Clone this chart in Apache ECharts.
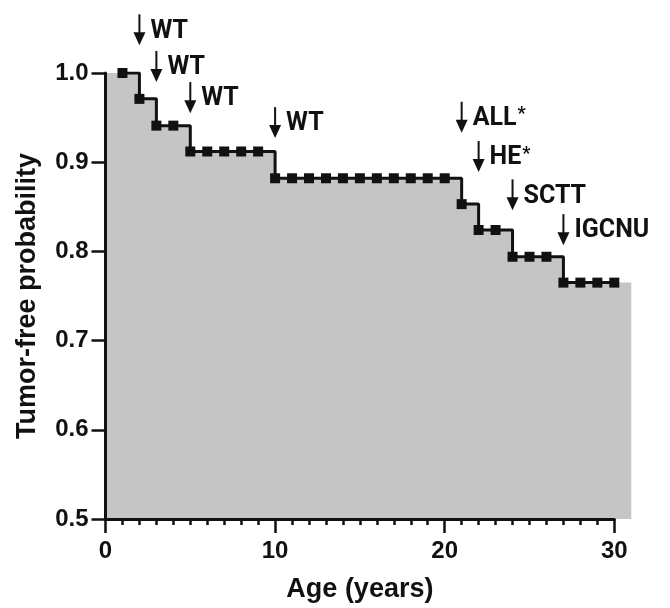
<!DOCTYPE html>
<html lang="en">
<head>
<meta charset="UTF-8">
<title>Tumor-free probability</title>
<script src="https://cdn.jsdelivr.net/npm/echarts@6/dist/echarts.min.js"></script>
<style>
    html, body { margin: 0; padding: 0; background: #fff; }
    #container { width: 670px; height: 608px; }
</style>
</head>
<body>
<div id="container"></div>
<script type="text/javascript">
    // Kaplan-Meier curve, one value per year of age
    const ages = [1, 2, 3, 4, 5, 6, 7, 8, 9, 10,
                  11, 12, 13, 14, 15, 16, 17, 18, 19, 20,
                  21, 22, 23, 24, 25, 26, 27, 28, 29, 30];
    const survival = [1.000, 0.971, 0.941, 0.941, 0.912, 0.912, 0.912, 0.912, 0.912, 0.882,
                      0.882, 0.882, 0.882, 0.882, 0.882, 0.882, 0.882, 0.882, 0.882, 0.882,
                      0.853, 0.824, 0.824, 0.794, 0.794, 0.794, 0.765, 0.765, 0.765, 0.765];
    // grey area runs from the y axis to a bit past the last point
    const fillFrom = 0;
    const fillTo = 31;

    // tumour events: age, label, where the arrow tip sits (probability units)
    const eventAges = [2, 3, 5, 10, 21, 22, 24, 27];
    const eventLabels = ['WT', 'WT', 'WT', 'WT', 'ALL*', 'HE*', 'SCTT', 'IGCNU'];
    const arrowTips = [1.031, 0.990, 0.955, 0.927, 0.933, 0.889, 0.846, 0.807];

    const xTicks = [0, 10, 20, 30];
    const yTicks = [0.5, 0.6, 0.7, 0.8, 0.9, 1.0];

    const axisFont = '"Liberation Sans", Arial, sans-serif';
    const noteFont = 'Roboto, "Noto Sans", sans-serif';

    const curve = ages.map((a, i) => [a, survival[i]]);
    const events = eventAges.map((a, i) => [a, arrowTips[i]]);

    const dom = document.getElementById('container');
    const myChart = echarts.init(dom, null, { renderer: 'canvas' });

    function noteText(label) {
        if (label.endsWith('*')) {
            return '{m|' + label.slice(0, -1) + '}{s|*}';
        }
        return '{m|' + label + '}';
    }

    // step outline of the grey area, built from the same data through the axes
    function renderFill(params, api) {
        const base = yTicks[0];
        const xs = [fillFrom].concat(ages, [fillTo]);
        const ys = [survival[0]].concat(survival, [survival[survival.length - 1]]);
        const pts = [api.coord([fillFrom, base])];
        for (let i = 0; i < xs.length; i++) {
            if (i > 0) pts.push(api.coord([xs[i], ys[i - 1]]));
            pts.push(api.coord([xs[i], ys[i]]));
        }
        pts.push(api.coord([fillTo, base]));
        return {
            type: 'polygon',
            shape: { points: pts },
            style: { fill: '#c5c5c5' }
        };
    }

    const option = {
        animation: false,
        backgroundColor: '#ffffff',
        grid: { left: 105.5, right: 55.7, top: 73, bottom: 89, containLabel: false },
        xAxis: {
            type: 'value',
            min: xTicks[0],
            max: xTicks[xTicks.length - 1],
            interval: 10,
            name: 'Age (years)',
            nameLocation: 'middle',
            nameGap: 57,
            nameTextStyle: { fontFamily: axisFont, fontWeight: 'bold', fontSize: 27, color: '#111' },
            axisLine: { onZero: false, lineStyle: { color: '#111', width: 3 } },
            axisTick: { length: 14, lineStyle: { color: '#111', width: 2.5 } },
            minorTick: { show: true, splitNumber: 10, length: 6, lineStyle: { color: '#111', width: 2.5 } },
            axisLabel: { margin: 20, fontFamily: axisFont, fontWeight: 'bold', fontSize: 24, color: '#111' },
            splitLine: { show: false },
            z: 5
        },
        yAxis: {
            type: 'value',
            min: yTicks[0],
            max: yTicks[yTicks.length - 1],
            interval: 0.1,
            name: 'Tumor-free probability',
            nameLocation: 'middle',
            nameRotate: 90,
            nameGap: 64,
            nameTextStyle: { fontFamily: axisFont, fontWeight: 'bold', fontSize: 27, color: '#111' },
            axisLine: { show: true, onZero: false, lineStyle: { color: '#111', width: 3 } },
            axisTick: { show: true, length: 14, lineStyle: { color: '#111', width: 2.5 } },
            axisLabel: {
                margin: 17,
                fontFamily: axisFont, fontWeight: 'bold', fontSize: 24, color: '#111',
                formatter: v => v.toFixed(1)
            },
            splitLine: { show: false },
            z: 5
        },
        series: [
            {
                name: 'area',
                type: 'custom',
                data: [[fillFrom, survival[0]]],
                clip: false,
                silent: true,
                renderItem: renderFill,
                z: 1
            },
            {
                name: 'curve',
                type: 'line',
                step: 'end',
                data: curve,
                symbol: 'rect',
                symbolSize: 10,
                itemStyle: { color: '#111' },
                lineStyle: { color: '#111', width: 3 },
                z: 3
            },
            {
                name: 'events',
                type: 'custom',
                data: events,
                clip: false,
                z: 4,
                renderItem: function (params, api) {
                    const p = api.coord([api.value(0), api.value(1)]);
                    const x = p[0], y = p[1];
                    return {
                        type: 'group',
                        children: [
                            {
                                type: 'line',
                                shape: { x1: x, y1: y - 31, x2: x, y2: y - 11 },
                                style: { stroke: '#111', lineWidth: 2 }
                            },
                            {
                                type: 'polygon',
                                shape: { points: [[x - 6, y - 13], [x + 6, y - 13], [x, y]] },
                                style: { fill: '#111' }
                            },
                            {
                                type: 'text',
                                x: x + 11,
                                y: y - 14,
                                style: {
                                    text: noteText(eventLabels[params.dataIndex]),
                                    align: 'left',
                                    verticalAlign: 'middle',
                                    fill: '#111',
                                    rich: {
                                        m: { fontFamily: noteFont, fontWeight: 'bold', fontSize: 25, color: '#111', lineHeight: 26 },
                                        s: { fontFamily: noteFont, fontWeight: 'bold', fontSize: 18, color: '#111', verticalAlign: 'top', lineHeight: 26, padding: [0, 0, 0, 1] }
                                    }
                                }
                            }
                        ]
                    };
                }
            }
        ]
    };

    myChart.setOption(option);
    window.addEventListener('resize', myChart.resize);
</script>
</body>
</html>
